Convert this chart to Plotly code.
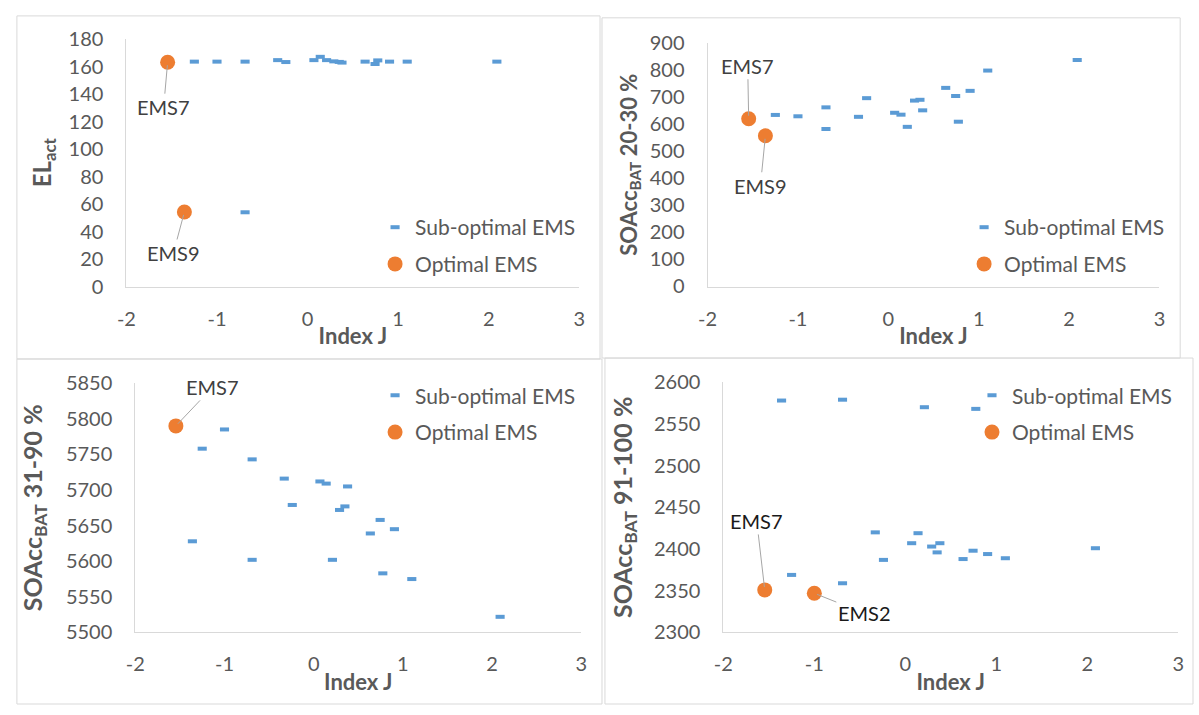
import plotly.graph_objects as go

# ---------------- data ----------------
ems_j = [-1.545, -1.36, -1.25, -1.00, -0.69, -0.69, -0.33, -0.24, 0.07, 0.14,
         0.21, 0.29, 0.35, 0.38, 0.635, 0.745, 0.775, 0.905, 1.10, 2.09]
ems_names = ["EMS7", "EMS9", "A", "EMS2", "C1", "C2", "D", "E", "F", "G",
             "H", "I", "K", "L", "M", "N", "O", "P", "Q", "R"]

el_act = [163.2, 54.2, 163.6, 163.6, 163.6, 54.0, 164.7, 163.3, 164.7, 167.1,
          164.7, 163.8, 163.4, 162.9, 163.6, 161.9, 164.5, 163.6, 163.6, 163.6]
soacc_20_30 = [620, 557, 634, 629, 662, 582, 627, 696, 642, 635,
               590, 687, 690, 651, 734, 704, 609, 723, 798, 837]
soacc_31_90 = [5790, 5628, 5758, 5785, 5743, 5602, 5716, 5679, 5712, 5709,
               5602, 5672, 5677, 5705, 5639, 5658, 5583, 5645, 5575, 5522]
soacc_91_100 = [2351, 2578, 2369, 2347, 2359, 2579, 2420, 2387, 2407, 2419,
                2570, 2403, 2396, 2407, 2388, 2398, 2568, 2394, 2389, 2401]

optimal_p1 = ["EMS7", "EMS9"]
optimal_p2 = ["EMS7", "EMS9"]
optimal_p3 = ["EMS7"]
optimal_p4 = ["EMS7", "EMS2"]

x_ticks = [-2, -1, 0, 1, 2, 3]
x_tick_labels = ["-2", "-1", "0", "1", "2", "3"]

# ---------------- styling ----------------
W, H = 1199, 715
FONT = "Lato"
GRAY = "#595959"
BLUE = "#5B9BD5"
ORANGE = "#ED7D31"


def px_x(p):
    return p / W


def px_y(p):
    return 1 - p / H


panels = [
    dict(y=el_act, opt=optimal_p1, yrange=[0, 180], dtick=20,
         title="<b>EL<sub>act</sub></b>", tsize=24, tstand=10,
         xdom=(118, 577), ydom=(283, 27),
         leg=(370, 222, 260),
         labels={"EMS7": (-4, 45), "EMS9": (-11, 41)}, lab_color="#404040"),
    dict(y=soacc_20_30, opt=optimal_p2, yrange=[0, 900], dtick=100,
         title="<b>SOAcc<sub>BAT</sub> 20-30 %</b>", tsize=22, tstand=6,
         xdom=(707, 1165), ydom=(283, 31),
         leg=(967, 222, 260),
         labels={"EMS7": (-1, -53), "EMS9": (-5, 50)}, lab_color="#404040"),
    dict(y=soacc_31_90, opt=optimal_p3, yrange=[5500, 5850], dtick=50,
         title="<b>SOAcc<sub>BAT</sub> 31-90 %</b>", tsize=25, tstand=16,
         xdom=(127, 579), ydom=(641, 383),
         leg=(370, 396, 434),
         labels={"EMS7": (37, -39)}, lab_color="#404040"),
    dict(y=soacc_91_100, opt=optimal_p4, yrange=[2300, 2600], dtick=50,
         title="<b>SOAcc<sub>BAT</sub> 91-100 %</b>", tsize=25, tstand=14,
         xdom=(723, 1184), ydom=(641, 382),
         leg=(975, 396, 434),
         labels={"EMS7": (-8, -69), "EMS2": (50, 20)}, lab_color="#1a1a1a"),
]

fig = go.Figure()
layout = dict(
    width=W, height=H,
    margin=dict(l=0, r=0, t=0, b=0),
    paper_bgcolor="white", plot_bgcolor="white",
    font=dict(family=FONT, color=GRAY, size=19),
    showlegend=True,
    annotations=[], shapes=[],
)

leg_idx = 2
for i, p in enumerate(panels, start=1):
    xa = "x" if i == 1 else f"x{i}"
    ya = "y" if i == 1 else f"y{i}"
    sub_x = [j for j, n in zip(ems_j, ems_names) if n not in p["opt"]]
    sub_y = [v for v, n in zip(p["y"], ems_names) if n not in p["opt"]]
    opt_x = [j for j, n in zip(ems_j, ems_names) if n in p["opt"]]
    opt_y = [v for v, n in zip(p["y"], ems_names) if n in p["opt"]]
    opt_n = [n for n in ems_names if n in p["opt"]]

    l1 = f"legend{leg_idx}"
    l2 = f"legend{leg_idx + 1}"
    fig.add_trace(go.Scatter(
        x=sub_x, y=sub_y, mode="markers", name="Sub-optimal EMS",
        xaxis=xa, yaxis=ya, legend=l1, showlegend=True,
        marker=dict(symbol="line-ew", size=6.5, color=BLUE,
                    line=dict(color=BLUE, width=4)),
        cliponaxis=False,
    ))
    fig.add_trace(go.Scatter(
        x=opt_x, y=opt_y, mode="markers", name="Optimal EMS",
        xaxis=xa, yaxis=ya, legend=l2, showlegend=True,
        marker=dict(symbol="circle", size=15, color=ORANGE),
        cliponaxis=False,
    ))
    lx, ly1, ly2 = p["leg"]
    for key, ly in ((l1, ly1), (l2, ly2)):
        layout[key] = dict(
            x=px_x(lx), y=px_y(ly), xanchor="left", yanchor="middle",
            bgcolor="rgba(0,0,0,0)", borderwidth=0, visible=True,
            font=dict(family=FONT, size=21, color=GRAY),
        )
    leg_idx += 2

    x0, x1 = p["xdom"]
    yb, yt = p["ydom"]
    axkey_x = "xaxis" if i == 1 else f"xaxis{i}"
    axkey_y = "yaxis" if i == 1 else f"yaxis{i}"
    layout[axkey_x] = dict(
        domain=[px_x(x0), px_x(x1)], anchor=ya, range=[-2, 3],
        tickvals=x_ticks, ticktext=x_tick_labels,
        showgrid=False, zeroline=False,
        showline=True, linecolor="#d9d9d9", linewidth=1, ticks="",
        tickfont=dict(family=FONT, size=20, color=GRAY),
        ticklabelstandoff=14,
        title=dict(text="<b>Index J</b>", standoff=0,
                   font=dict(family=FONT, size=22, color=GRAY)),
    )
    layout[axkey_y] = dict(
        domain=[px_y(yb), px_y(yt)], anchor=xa, range=p["yrange"],
        dtick=p["dtick"], showgrid=False, zeroline=False,
        showline=True, linecolor="#d9d9d9", linewidth=1, ticks="",
        tickfont=dict(family=FONT, size=20, color=GRAY),
        ticklabelstandoff=18,
        title=dict(text=p["title"], standoff=p["tstand"],
                   font=dict(family=FONT, size=p["tsize"], color=GRAY)),
    )

    for n, xv, yv in zip(opt_n, opt_x, opt_y):
        if n in p["labels"]:
            axo, ayo = p["labels"][n]
            layout["annotations"].append(dict(
                x=xv, y=yv, xref=xa, yref=ya, text=n,
                showarrow=True, arrowhead=0, arrowwidth=1, arrowcolor="#a6a6a6",
                ax=axo, ay=ayo, standoff=3,
                font=dict(family=FONT, size=20, color=p["lab_color"]),
            ))

# panel borders (chart-area frames)
for (a, b, c, d) in [(7, 3, 598, 358), (600, 5, 1186, 357),
                     (7, 358, 600, 715), (603, 357, 1199, 715)]:
    layout["shapes"].append(dict(
        type="rect", xref="paper", yref="paper",
        x0=px_x(a), x1=px_x(c), y0=px_y(d), y1=px_y(b),
        line=dict(color="#d9d9d9", width=1), fillcolor="rgba(0,0,0,0)",
    ))

fig.update_layout(**layout)
fig.write_html("out.html")
